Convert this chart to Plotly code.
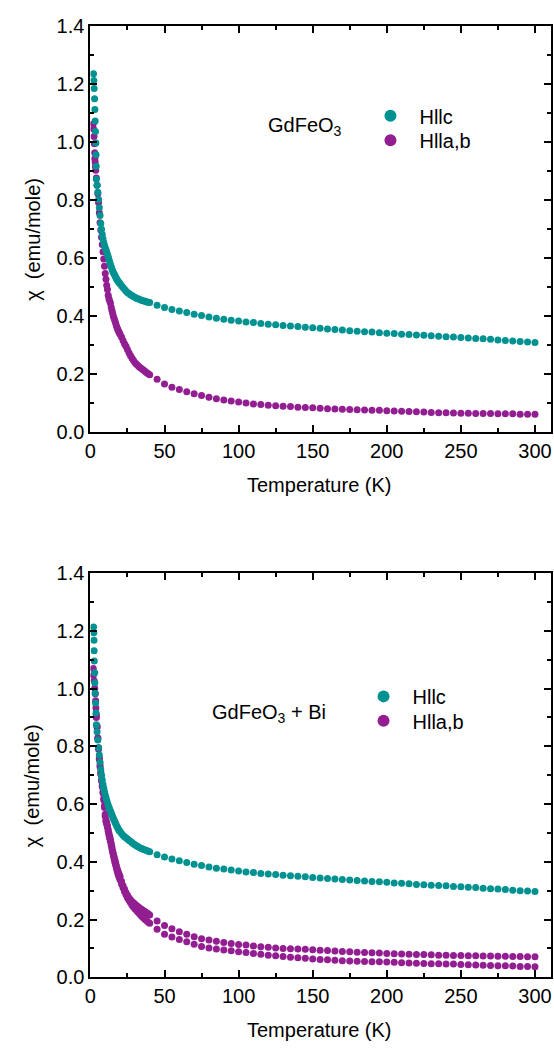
import plotly.graph_objects as go

# ---------------- DATA ----------------
# Top panel: GdFeO3
T_low_top_c = [2.1, 2.3, 2.5, 2.8, 3.0, 3.2, 3.4, 3.7, 3.8, 3.9]
chi_low_top_c = [1.234, 1.211, 1.183, 1.148, 1.111, 1.071, 1.035, 0.995, 0.955, 0.915]
T_low_top_ab = [1.9, 2.1, 2.4, 2.7, 2.9, 3.0, 3.2, 3.4, 3.6]
chi_low_top_ab = [1.061, 1.044, 1.018, 0.993, 0.962, 0.942, 0.930, 0.914, 0.901]

T_dense = [4.0, 4.5, 5.0, 5.5, 6.0, 6.5, 7.0, 7.5, 8.0, 8.5, 9.0, 9.5, 10.0, 10.5, 11.0,
           11.5, 12.0, 12.5, 13.0, 13.5, 14.0, 14.5, 15.0, 15.5, 16.0, 16.5, 17.0, 17.5,
           18.0, 18.5, 19.0, 19.5, 20.0, 21, 22, 23, 24, 25, 26, 27, 28, 29, 30, 31, 32,
           33, 34, 35, 36, 37, 38, 39, 40]
T_high = [45, 50, 55, 60, 65, 70, 75, 80, 85, 90, 95, 100, 105, 110, 115, 120, 125, 130,
          135, 140, 145, 150, 155, 160, 165, 170, 175, 180, 185, 190, 195, 200, 205, 210,
          215, 220, 225, 230, 235, 240, 245, 250, 255, 260, 265, 270, 275, 280, 285, 290,
          295, 300]

chi_top_c_dense = [0.870, 0.850, 0.825, 0.800, 0.772, 0.745, 0.718, 0.698, 0.680, 0.664,
                   0.652, 0.642, 0.634, 0.627, 0.619, 0.611, 0.603, 0.594, 0.585, 0.577,
                   0.569, 0.561, 0.554, 0.548, 0.543, 0.538, 0.533, 0.528, 0.524, 0.520,
                   0.516, 0.513, 0.510, 0.503, 0.497, 0.491, 0.485, 0.480, 0.476, 0.472,
                   0.469, 0.466, 0.463, 0.460, 0.458, 0.456, 0.454, 0.452, 0.450, 0.449,
                   0.447, 0.446, 0.445]
chi_top_c_high = [0.436, 0.428, 0.421, 0.416, 0.411, 0.405, 0.400, 0.395, 0.391, 0.387,
                  0.384, 0.381, 0.378, 0.376, 0.373, 0.370, 0.368, 0.366, 0.364, 0.362,
                  0.360, 0.358, 0.356, 0.354, 0.352, 0.350, 0.348, 0.346, 0.344, 0.343,
                  0.341, 0.339, 0.338, 0.336, 0.335, 0.333, 0.332, 0.330, 0.329, 0.327,
                  0.326, 0.324, 0.323, 0.321, 0.320, 0.318, 0.316, 0.314, 0.312, 0.311,
                  0.309, 0.307]
chi_top_ab_dense = [0.875, 0.850, 0.820, 0.790, 0.755, 0.720, 0.695, 0.670, 0.645, 0.620,
                    0.595, 0.570, 0.545, 0.525, 0.505, 0.490, 0.470, 0.458, 0.450, 0.443,
                    0.430, 0.418, 0.408, 0.398, 0.390, 0.382, 0.374, 0.366, 0.358, 0.352,
                    0.346, 0.341, 0.336, 0.326, 0.314, 0.303, 0.294, 0.283, 0.272, 0.262,
                    0.254, 0.246, 0.238, 0.233, 0.228, 0.223, 0.219, 0.215, 0.211, 0.207,
                    0.203, 0.199, 0.196]
chi_top_ab_high = [0.180, 0.164, 0.153, 0.145, 0.137, 0.130, 0.124, 0.118, 0.113, 0.109,
                   0.105, 0.102, 0.098, 0.095, 0.093, 0.091, 0.089, 0.087, 0.086, 0.084,
                   0.083, 0.082, 0.080, 0.079, 0.078, 0.077, 0.076, 0.075, 0.074, 0.073,
                   0.073, 0.072, 0.071, 0.070, 0.069, 0.068, 0.067, 0.066, 0.065, 0.065,
                   0.064, 0.063, 0.063, 0.062, 0.062, 0.062, 0.061, 0.061, 0.061, 0.060,
                   0.060, 0.060]

# Bottom panel: GdFeO3 + Bi
T_low_bot_c = [2.1, 2.3, 2.4, 2.5, 2.6, 2.9, 3.0, 3.2, 3.5, 3.8]
chi_low_bot_c = [1.213, 1.193, 1.167, 1.131, 1.095, 1.055, 1.020, 0.984, 0.950, 0.915]
T_low_bot_ab = [1.9, 2.0, 2.5, 2.9, 3.3, 3.5, 3.7, 3.9]
chi_low_bot_ab = [1.069, 1.046, 1.027, 1.001, 0.982, 0.958, 0.933, 0.911]

chi_bot_c_dense = [0.875, 0.850, 0.822, 0.795, 0.770, 0.745, 0.720, 0.700, 0.683, 0.668,
                   0.655, 0.643, 0.632, 0.622, 0.613, 0.604, 0.596, 0.589, 0.582, 0.576,
                   0.569, 0.563, 0.556, 0.550, 0.544, 0.539, 0.533, 0.527, 0.522, 0.517,
                   0.512, 0.508, 0.505, 0.498, 0.492, 0.487, 0.483, 0.479, 0.475, 0.471,
                   0.467, 0.463, 0.459, 0.456, 0.453, 0.450, 0.447, 0.445, 0.443, 0.441,
                   0.439, 0.437, 0.435]
chi_bot_c_high = [0.425, 0.417, 0.410, 0.404, 0.398, 0.392, 0.387, 0.382, 0.378, 0.375,
                  0.372, 0.368, 0.365, 0.363, 0.360, 0.358, 0.356, 0.354, 0.352, 0.350,
                  0.348, 0.346, 0.344, 0.342, 0.341, 0.339, 0.337, 0.335, 0.334, 0.332,
                  0.331, 0.329, 0.327, 0.326, 0.324, 0.322, 0.321, 0.319, 0.318, 0.317,
                  0.315, 0.314, 0.312, 0.311, 0.309, 0.307, 0.306, 0.304, 0.302, 0.300,
                  0.299, 0.297]
chi_bot_ab1_dense = [0.905, 0.870, 0.830, 0.795, 0.760, 0.735, 0.710, 0.685, 0.665, 0.643,
                     0.620, 0.595, 0.565, 0.545, 0.535, 0.525, 0.512, 0.498, 0.488, 0.478,
                     0.465, 0.452, 0.438, 0.428, 0.418, 0.408, 0.398, 0.387, 0.377, 0.369,
                     0.361, 0.355, 0.349, 0.333, 0.318, 0.306, 0.294, 0.284, 0.276, 0.269,
                     0.263, 0.258, 0.254, 0.249, 0.245, 0.241, 0.237, 0.234, 0.230, 0.227,
                     0.223, 0.220, 0.216]
chi_bot_ab1_high = [0.195, 0.180, 0.168, 0.158, 0.149, 0.141, 0.134, 0.129, 0.125, 0.121,
                    0.117, 0.114, 0.112, 0.109, 0.106, 0.104, 0.102, 0.100, 0.099, 0.098,
                    0.097, 0.096, 0.094, 0.093, 0.091, 0.090, 0.089, 0.087, 0.086, 0.085,
                    0.084, 0.083, 0.082, 0.081, 0.080, 0.079, 0.079, 0.078, 0.077, 0.077,
                    0.076, 0.076, 0.075, 0.075, 0.074, 0.074, 0.073, 0.073, 0.072, 0.072,
                    0.071, 0.071]
chi_bot_ab2_dense = [0.900, 0.865, 0.826, 0.790, 0.755, 0.728, 0.703, 0.680, 0.660, 0.638,
                     0.614, 0.588, 0.558, 0.540, 0.530, 0.520, 0.506, 0.493, 0.482, 0.471,
                     0.458, 0.445, 0.432, 0.421, 0.410, 0.399, 0.389, 0.379, 0.369, 0.360,
                     0.352, 0.345, 0.338, 0.323, 0.310, 0.297, 0.286, 0.276, 0.267, 0.259,
                     0.251, 0.244, 0.238, 0.232, 0.226, 0.221, 0.215, 0.210, 0.205, 0.200,
                     0.196, 0.191, 0.187]
chi_bot_ab2_high = [0.167, 0.149, 0.140, 0.131, 0.123, 0.115, 0.107, 0.102, 0.098, 0.095,
                    0.092, 0.089, 0.086, 0.083, 0.080, 0.077, 0.075, 0.072, 0.070, 0.068,
                    0.066, 0.064, 0.062, 0.061, 0.059, 0.058, 0.057, 0.056, 0.055, 0.054,
                    0.054, 0.053, 0.052, 0.051, 0.050, 0.049, 0.048, 0.047, 0.047, 0.046,
                    0.046, 0.045, 0.044, 0.043, 0.042, 0.041, 0.040, 0.040, 0.039, 0.038,
                    0.038, 0.037]

x_ticks = [0, 50, 100, 150, 200, 250, 300]
y_ticks = [0.0, 0.2, 0.4, 0.6, 0.8, 1.0, 1.2, 1.4]
y_ticklabels = ["0.0", "0.2", "0.4", "0.6", "0.8", "1.0", "1.2", "1.4"]
label_c = "Hllc"
label_ab = "Hlla,b"
title_top = "GdFeO<sub>3</sub>"
title_bot = "GdFeO<sub>3</sub> + Bi"

# ---------------- STYLE ----------------
W, H = 554, 1053
TEAL = "#009191"
PURPLE = "#921E92"
FONT = "Liberation Sans, Arial, Helvetica, sans-serif"
FS = 20
MS = 7

def py(p):
    return 1 - p / H

fig = go.Figure()

def add(x, y, color, xa, ya, name=None, legend=None):
    fig.add_trace(go.Scatter(
        x=x, y=y, mode="markers", xaxis=xa, yaxis=ya,
        marker=dict(size=MS, color=color, line=dict(width=0)),
        name=name if name else "", showlegend=legend is not None,
        legend=legend if legend else "legend"))

# top panel
add(T_low_top_ab + T_dense + T_high, chi_low_top_ab + chi_top_ab_dense + chi_top_ab_high,
    PURPLE, "x", "y", label_ab, "legend2")
add(T_low_top_c + T_dense + T_high, chi_low_top_c + chi_top_c_dense + chi_top_c_high,
    TEAL, "x", "y", label_c, "legend")
# bottom panel
add(T_dense + T_high, chi_bot_ab2_dense + chi_bot_ab2_high, PURPLE, "x2", "y2")
add(T_low_bot_ab + T_dense + T_high, chi_low_bot_ab + chi_bot_ab1_dense + chi_bot_ab1_high,
    PURPLE, "x2", "y2", label_ab, "legend4")
add(T_low_bot_c + T_dense + T_high, chi_low_bot_c + chi_bot_c_dense + chi_bot_c_high,
    TEAL, "x2", "y2", label_c, "legend3")

xdom = [85.5 / W, 551.5 / W]
ydom_top = [py(429.5), py(15)]
ydom_bot = [py(987), py(574)]

axis_common = dict(
    showline=True, linecolor="black", linewidth=2, mirror="ticks",
    ticks="inside", ticklen=7, tickwidth=1.5, tickcolor="black",
    showgrid=False, zeroline=False,
    tickfont=dict(family=FONT, size=FS, color="black"),
)
xaxis_common = dict(axis_common, range=[0, 310.5], tickvals=x_ticks,
                    minor=dict(dtick=25, tick0=0, ticks="inside", ticklen=4,
                               tickwidth=1.5, tickcolor="black", showgrid=False))
yaxis_common = dict(axis_common, range=[0, 1.4], tickvals=y_ticks, ticktext=y_ticklabels,
                    minor=dict(dtick=0.1, tick0=0, ticks="inside", ticklen=4,
                               tickwidth=1.5, tickcolor="black", showgrid=False))

legend_common = dict(font=dict(family=FONT, size=FS, color="black"),
                     bgcolor="rgba(0,0,0,0)", borderwidth=0, itemsizing="constant",
                     itemwidth=48, xanchor="left", yanchor="middle")

fig.update_layout(
    width=W, height=H, margin=dict(l=0, r=0, t=0, b=0),
    paper_bgcolor="white", plot_bgcolor="white",
    font=dict(family=FONT, size=FS, color="black"),
    xaxis=dict(xaxis_common, domain=xdom, anchor="y"),
    yaxis=dict(yaxis_common, domain=ydom_top, anchor="x"),
    xaxis2=dict(xaxis_common, domain=xdom, anchor="y2"),
    yaxis2=dict(yaxis_common, domain=ydom_bot, anchor="x2"),
    legend=dict(legend_common, x=(389 - 29) / W, y=py(107)),
    legend2=dict(legend_common, x=(389 - 29) / W, y=py(132)),
    legend3=dict(legend_common, x=(382 - 29) / W, y=py(700)),
    legend4=dict(legend_common, x=(382 - 29) / W, y=py(725)),
    annotations=[
        dict(text=title_top, x=263 / W, y=py(118), xref="paper", yref="paper",
             xanchor="left", yanchor="middle", showarrow=False,
             font=dict(family=FONT, size=FS)),
        dict(text=title_bot, x=207 / W, y=py(718), xref="paper", yref="paper",
             xanchor="left", yanchor="middle", showarrow=False,
             font=dict(family=FONT, size=FS)),
        dict(text="Temperature (K)", x=318 / W, y=py(484), xref="paper", yref="paper",
             xanchor="center", yanchor="middle", showarrow=False,
             font=dict(family=FONT, size=FS)),
        dict(text="Temperature (K)", x=318 / W, y=py(1041), xref="paper", yref="paper",
             xanchor="center", yanchor="middle", showarrow=False,
             font=dict(family=FONT, size=FS)),
        dict(text="χ  (emu/mole)", x=27 / W, y=py(233), xref="paper", yref="paper",
             xanchor="center", yanchor="middle", textangle=-90, showarrow=False,
             font=dict(family=FONT, size=FS)),
        dict(text="χ  (emu/mole)", x=27 / W, y=py(791), xref="paper", yref="paper",
             xanchor="center", yanchor="middle", textangle=-90, showarrow=False,
             font=dict(family=FONT, size=FS)),
    ],
)

fig.write_html("out.html")
